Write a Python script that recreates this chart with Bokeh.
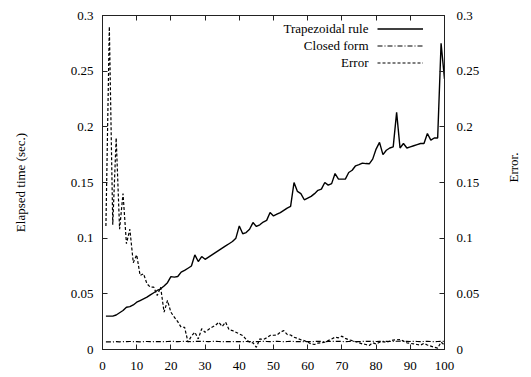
import math
from bokeh.plotting import figure
from bokeh.models import (Range1d, LinearAxis, FixedTicker, Legend, LegendItem, Label)
from bokeh.embed import file_html
from bokeh.resources import INLINE

# ---------------- data ----------------
n_values = list(range(1, 101))

trapezoidal = [
    0.030, 0.030, 0.030, 0.031, 0.033, 0.035, 0.038, 0.0385, 0.040, 0.0425,
    0.044, 0.0455, 0.047, 0.049, 0.051, 0.053, 0.0545, 0.057, 0.060, 0.0655,
    0.065, 0.0656, 0.0695, 0.071, 0.073, 0.075, 0.085, 0.079, 0.0835, 0.081,
    0.083, 0.085, 0.087, 0.089, 0.091, 0.093, 0.095, 0.097, 0.100, 0.111,
    0.104, 0.105, 0.108, 0.114, 0.1105, 0.112, 0.1145, 0.116, 0.123, 0.120,
    0.1215, 0.123, 0.125, 0.127, 0.1285, 0.150, 0.142, 0.140, 0.1345, 0.136,
    0.1375, 0.140, 0.143, 0.144, 0.150, 0.1476, 0.149, 0.158, 0.153, 0.153,
    0.153, 0.159, 0.161, 0.165, 0.166, 0.1674, 0.167, 0.1668, 0.171, 0.180,
    0.186, 0.175, 0.179, 0.181, 0.182, 0.213, 0.181, 0.185, 0.181, 0.182,
    0.183, 0.184, 0.185, 0.185, 0.194, 0.188, 0.190, 0.190, 0.275, 0.243,
]

closed_form = [
    0.0068, 0.0069, 0.0068, 0.0070, 0.0069, 0.0071, 0.0070, 0.0072, 0.0071, 0.0070,
    0.0069, 0.0071, 0.0072, 0.0070, 0.0071, 0.0072, 0.0071, 0.0070, 0.0072, 0.0073,
    0.0072, 0.0071, 0.0072, 0.0073, 0.0072, 0.0071, 0.0072, 0.0073, 0.0074, 0.0072,
    0.0071, 0.0072, 0.0073, 0.0072, 0.0071, 0.0070, 0.0071, 0.0072, 0.0071, 0.0070,
    0.0071, 0.0072, 0.0071, 0.0070, 0.0071, 0.0072, 0.0073, 0.0072, 0.0071, 0.0072,
    0.0073, 0.0072, 0.0071, 0.0072, 0.0073, 0.0072, 0.0071, 0.0070, 0.0071, 0.0072,
    0.0071, 0.0072, 0.0073, 0.0072, 0.0071, 0.0072, 0.0073, 0.0074, 0.0073, 0.0072,
    0.0071, 0.0072, 0.0073, 0.0072, 0.0071, 0.0072, 0.0073, 0.0074, 0.0073, 0.0072,
    0.0073, 0.0074, 0.0073, 0.0072, 0.0073, 0.0074, 0.0075, 0.0074, 0.0073, 0.0072,
    0.0073, 0.0072, 0.0071, 0.0072, 0.0073, 0.0072, 0.0071, 0.0072, 0.0073, 0.0072,
]

error = [
    0.111, 0.290, 0.112, 0.190, 0.108, 0.140, 0.095, 0.108, 0.078, 0.085,
    0.0665, 0.068, 0.059, 0.056, 0.056, 0.0485, 0.056, 0.0335, 0.044, 0.0335,
    0.029, 0.025, 0.020, 0.020, 0.0066, 0.012, 0.0155, 0.0095, 0.0186, 0.0155,
    0.018, 0.020, 0.0216, 0.0245, 0.0207, 0.0245, 0.0177, 0.017, 0.0155, 0.014,
    0.0126, 0.009, 0.0066, 0.006, 0.002, 0.0095, 0.009, 0.0105, 0.0126, 0.0128,
    0.013, 0.0155, 0.017, 0.0135, 0.013, 0.011, 0.010, 0.0087, 0.008, 0.0066,
    0.005, 0.0045, 0.0057, 0.006, 0.0066, 0.008, 0.0095, 0.011, 0.0105, 0.012,
    0.010, 0.0087, 0.008, 0.007, 0.006, 0.005, 0.0045, 0.0036, 0.006, 0.005,
    0.0065, 0.007, 0.0065, 0.0075, 0.0085, 0.0087, 0.009, 0.0075, 0.006, 0.0055,
    0.005, 0.0045, 0.004, 0.0055, 0.004, 0.003, 0.002, 0.0012, 0.0066, 0.004,
]

x_ticks = [0, 10, 20, 30, 40, 50, 60, 70, 80, 90, 100]
x_tick_labels = ["0", "10", "20", "30", "40", "50", "60", "70", "80", "90", "100"]
y_ticks = [0, 0.05, 0.1, 0.15, 0.2, 0.25, 0.3]
y_tick_labels = ["0", "0.05", "0.1", "0.15", "0.2", "0.25", "0.3"]

series_names = ["Trapezoidal rule", "Closed form", "Error"]
left_label = "Elapsed time (sec.)"
right_label = "Error."

# ---------------- styling ----------------
FONT = "'Liberation Serif', 'Times New Roman', serif"
FS = "13px"

p = figure(width=531, height=377, output_backend="svg", toolbar_location=None,
           x_range=Range1d(0, 100), y_range=Range1d(0, 0.3),
           min_border_left=102, min_border_right=87, min_border_top=15, min_border_bottom=28,
           x_axis_location=None, y_axis_location=None)
p.grid.visible = False
p.outline_line_color = "#222222"
p.outline_line_width = 1
p.background_fill_color = "white"
p.border_fill_color = "white"


def style_axis(ax, labels_map, standoff):
    ax.major_tick_in = 5
    ax.major_tick_out = 0
    ax.minor_tick_in = 0
    ax.minor_tick_out = 0
    ax.axis_line_color = "#222222"
    ax.major_tick_line_color = "#222222"
    ax.major_label_text_font = FONT
    ax.major_label_text_font_size = FS
    ax.major_label_text_color = "black"
    ax.major_label_standoff = standoff
    ax.major_label_overrides = labels_map
    ax.axis_label_text_font = FONT
    ax.axis_label_text_font_size = FS
    ax.axis_label_text_font_style = "normal"
    ax.axis_label_text_color = "black"


xmap = {t: l for t, l in zip(x_ticks, x_tick_labels)}
ymap = {t: l for t, l in zip(y_ticks, y_tick_labels)}

bottom = LinearAxis(ticker=FixedTicker(ticks=x_ticks))
style_axis(bottom, xmap, 12)
p.add_layout(bottom, "below")

top = LinearAxis(ticker=FixedTicker(ticks=x_ticks))
style_axis(top, {t: "" for t in x_ticks}, 0)
top.major_label_text_font_size = "0px"
p.add_layout(top, "above")

left = LinearAxis(ticker=FixedTicker(ticks=y_ticks), axis_label=left_label)
style_axis(left, ymap, 9)
left.axis_label_standoff = 40
p.add_layout(left, "left")

right = LinearAxis(ticker=FixedTicker(ticks=y_ticks), axis_label=right_label)
style_axis(right, ymap, 12)
right.axis_label_standoff = 31
right.axis_label_orientation = math.pi / 2
p.add_layout(right, "right")

r_trap = p.line(n_values, trapezoidal, line_color="black", line_width=1.4)
r_closed = p.line(n_values, closed_form, line_color="black", line_width=1.2, line_dash="5 2 1 2")
r_err = p.line(n_values, error, line_color="black", line_width=1.2, line_dash="3 2")

legend = Legend(items=[LegendItem(label=" ", renderers=[r]) for r in (r_trap, r_closed, r_err)],
                location=(275, 278), glyph_width=46, glyph_height=17, label_width=0,
                label_height=17, label_standoff=0, spacing=0, padding=0, margin=0,
                label_text_font_size="1px", background_fill_alpha=0, border_line_alpha=0)
p.add_layout(legend, "center")

for i, name in enumerate(series_names):
    p.add_layout(Label(x=266, y=321 - 17 * i, x_units="screen", y_units="screen", text=name,
                       text_align="right", text_baseline="middle", text_font=FONT,
                       text_font_size=FS, text_color="black"))

open("out.html", "w").write(file_html(p, INLINE))
